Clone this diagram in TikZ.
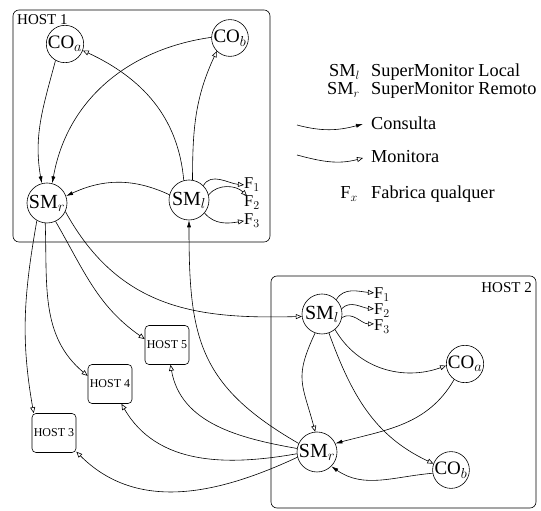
\documentclass[tikz,border=0pt]{standalone}
\usepackage{fontspec}
\setmainfont{Liberation Serif}
\usetikzlibrary{arrows.meta}
\begin{document}
\begin{tikzpicture}[x=1pt,y=1pt,
  every node/.style={inner sep=0pt},
  circ/.style={draw, circle, line width=0.6pt, minimum size=40pt, font=\fontsize{20}{22}\selectfont},
  cobox/.style={draw, circle, line width=0.6pt, minimum size=36pt, font=\fontsize{19}{22}\selectfont},
  fl/.style={anchor=base west, font=\fontsize{16.5}{18}\selectfont},
  hostbox/.style={draw, rounded corners=4pt, line width=0.6pt, minimum width=44pt, minimum height=39pt, font=\fontsize{12}{14}\selectfont},
  frame/.style={draw, rounded corners=6pt, line width=0.6pt},
  hl/.style={font=\fontsize{15}{17}\selectfont},
  lg/.style={font=\fontsize{18.3}{20}\selectfont},
  con/.style={line width=0.6pt, -{Latex[length=7pt,width=4pt]}},
  mon/.style={line width=0.6pt, -{Triangle[open,length=6pt,width=5pt]}},
]
\useasboundingbox (0,0) rectangle (541,511);

% ---------- HOST 1 ----------
\draw[frame] (13,269) rectangle (270,501);
\node[hl, anchor=base west] (h1l) at (17,486) {HOST 1};
\node[cobox] (coa1) at (65,467) {CO$_a$};
\node[cobox] (cob1) at (230,473) {CO$_b$};
\node[circ] (smr1) at (47,308) {SM$_r$};
\node[circ] (sml1) at (189,311) {SM$_l$};
\node[fl] (fa1) at (244,322) {F$_1$};
\node[fl] (fa2) at (244,304) {F$_2$};
\node[fl] (fa3) at (244,286) {F$_3$};

% ---------- HOST 2 ----------
\draw[frame] (271,3) rectangle (536,235);
\node[hl, anchor=base east] (h2l) at (532,218) {HOST 2};
\node[circ] (sml2) at (322,197) {SM$_l$};
\node[fl] (fb1) at (374,212) {F$_1$};
\node[fl] (fb2) at (374,196) {F$_2$};
\node[fl] (fb3) at (374,180) {F$_3$};
\node[cobox] (coa2) at (465,147) {CO$_a$};
\node[circ] (smr2) at (317,59) {SM$_r$};
\node[cobox] (cob2) at (451,41) {CO$_b$};

% ---------- other hosts ----------
\node[hostbox] (h5) at (167,166) {HOST 5};
\node[hostbox] (h4) at (110,127) {HOST 4};
\node[hostbox] (h3) at (54,78) {HOST 3};

% ---------- legend ----------
\node[lg, anchor=base east] (lsl) at (360,434) {SM$_l$};
\node[lg, anchor=base west] (lslt) at (371,434) {SuperMonitor Local};
\node[lg, anchor=base east] (lsr) at (360,416) {SM$_r$};
\node[lg, anchor=base west] (lsrt) at (371,416) {SuperMonitor Remoto};
\coordinate (lc1) at (297,386);
\coordinate (lc2) at (363,387);
\draw[con] (lc1) to[out=-15,in=195] (lc2);
\node[lg, anchor=base west] (lct) at (371,381) {Consulta};
\coordinate (lm1) at (297,356);
\coordinate (lm2) at (363,353);
\draw[mon] (lm1) to[out=-15,in=195] (lm2);
\node[lg, anchor=base west] (lmt) at (371,348) {Monitora};
\node[lg, anchor=base east] (lfx) at (358,312) {F$_x$};
\node[lg, anchor=base west] (lfxt) at (371,312) {Fabrica qualquer};

% ---------- host 1 edges ----------
\draw[mon] (sml1.105) to[out=95,in=-25] (coa1.-20);
\draw[mon] (sml1.80) to[out=90,in=-115] (cob1.-135);
\draw[con] (coa1.-120) to[out=-105,in=100] (smr1.105);
\draw[con] (cob1.178) to[out=188,in=80] (smr1.75);
\draw[con] (sml1.165) to[out=155,in=25] (smr1.20);
\draw[mon] (sml1.45) to[out=60,in=175] (fa1.west);
\draw[mon] (sml1.15) to[out=50,in=135] ([xshift=3pt]fa2.north west);
\draw[mon] (sml1.-40) to[out=-50,in=190] (fa3.west);

% ---------- SM_r (host 1) outgoing ----------
\draw[mon] (smr1.-120) to[out=-100,in=100] ([xshift=2pt]h3.north west);
\draw[mon] (smr1.-95) to[out=-88,in=140] (h4.160);
\draw[mon] (smr1.-65) to[out=-60,in=145] (h5.165);
\draw[mon] (smr1.-25) .. controls (120,200) and (200,192) .. (sml2.187);

% ---------- SM_r (host 2) outgoing ----------
\draw[con] (smr2.155) to[out=150,in=-90,looseness=1.2] (sml1.south);
\draw[mon] (smr2.170) to[out=170,in=-80] (h5.-80);
\draw[mon] (smr2.185) to[out=190,in=-60] (h4.-60);
\draw[mon] (smr2.195) to[out=205,in=-45] (h3.-40);

% ---------- host 2 edges ----------
\draw[mon] (sml2.45) to[out=60,in=175] ([yshift=2pt]fb1.west);
\draw[mon] (sml2.15) to[out=45,in=175] ([yshift=2pt]fb2.west);
\draw[mon] (sml2.-10) to[out=30,in=180] ([yshift=3pt]fb3.west);
\draw[mon] (sml2.-50) to[out=-60,in=200] (coa2.185);
\draw[mon] (sml2.-70) to[out=-70,in=155] (cob2.160);
\draw[mon] (sml2.-110) to[out=-115,in=105,looseness=1.3] (smr2.95);
\draw[con] (coa2.-125) to[out=-120,in=15] (smr2.25);
\draw[con] (cob2.190) to[out=185,in=-35] (smr2.-45);
\end{tikzpicture}
\end{document}
